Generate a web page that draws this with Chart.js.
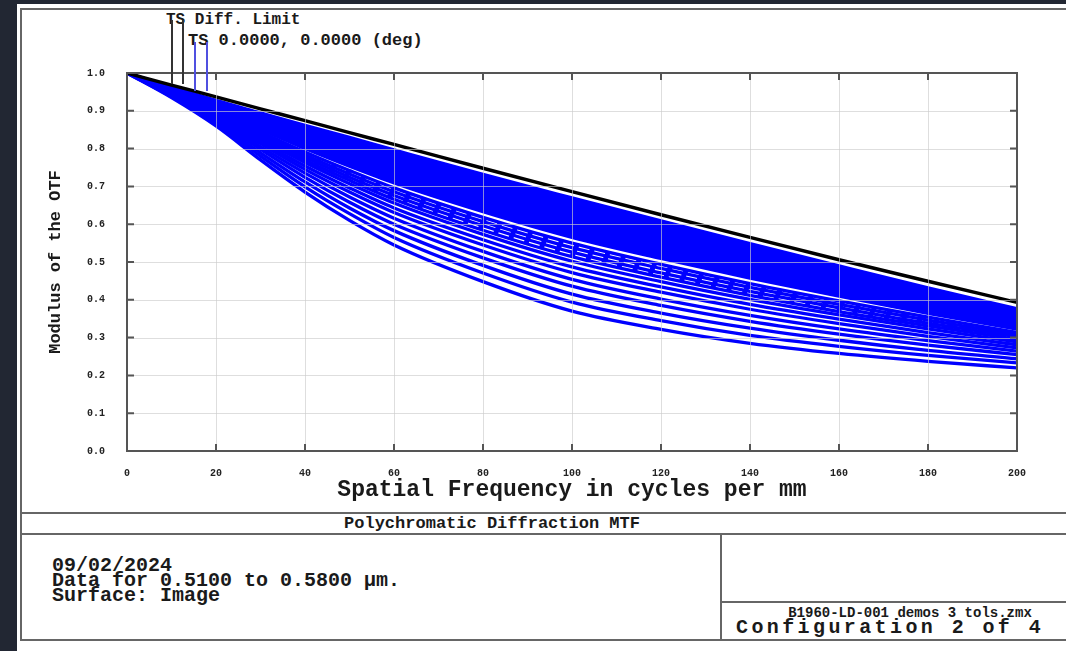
<!DOCTYPE html>
<html>
<head>
<meta charset="utf-8">
<script src="https://cdn.jsdelivr.net/npm/chart.js@4.4.1/dist/chart.umd.min.js"></script>
<style>
  html,body{margin:0;padding:0;}
  body{width:1066px;height:651px;background:#222733;position:relative;overflow:hidden;font-family:"Liberation Mono","Courier New",monospace;color:#1a1a1a;}
  #panel{position:absolute;left:17px;top:4px;width:1049px;height:647px;background:#fff;}
  .hl{position:absolute;height:2px;background:#666;}
  .vl{position:absolute;width:2px;background:#666;}
  .t{position:absolute;font-weight:bold;white-space:pre;}
  #wrap{position:absolute;left:0;top:0;width:1066px;height:512px;}
</style>
</head>
<body>
<div id="panel"></div>
<div class="hl" style="left:20px;top:8px;width:1046px;"></div>
<div class="vl" style="left:20px;top:8px;height:633px;"></div>
<div class="hl" style="left:20px;top:512px;width:1046px;"></div>
<div class="hl" style="left:20px;top:533px;width:1046px;"></div>
<div class="hl" style="left:20px;top:639px;width:1046px;"></div>
<div class="vl" style="left:720px;top:533px;height:107px;"></div>
<div class="hl" style="left:720px;top:601px;width:346px;"></div>

<div class="t" style="left:166px;top:11px;font-size:16px;line-height:18px;">TS Diff. Limit</div>
<div class="t" style="left:188px;top:32px;font-size:17px;line-height:18px;">TS 0.0000, 0.0000 (deg)</div>

<div class="t" style="left:0;width:984px;text-align:center;top:514px;font-size:17px;line-height:20px;">Polychromatic Diffraction MTF</div>
<div class="t" style="left:52px;top:558px;font-size:20px;line-height:15px;">09/02/2024
Data for 0.5100 to 0.5800 µm.
Surface: Image</div>
<div class="t" style="left:721px;width:378px;text-align:center;top:605px;font-size:14px;line-height:16px;">B1960-LD-001 demos 3 tols.zmx</div>
<div class="t" style="left:736px;top:620px;font-size:20px;line-height:16px;letter-spacing:3.4px;">Configuration 2 of 4</div>

<div id="wrap"><canvas id="c"></canvas></div>

<script>
// ---- data ----
const freqs = [0, 10, 20, 30, 40, 50, 60, 80, 100, 120, 140, 160, 180, 200];
const xTicks = [0, 20, 40, 60, 80, 100, 120, 140, 160, 180, 200];
const yTicks = [0.0, 0.1, 0.2, 0.3, 0.4, 0.5, 0.6, 0.7, 0.8, 0.9, 1.0];

const diffLimit = [1, 0.968, 0.937, 0.905, 0.874, 0.842, 0.811, 0.748, 0.686, 0.625, 0.565, 0.506, 0.449, 0.393];

// polychromatic field curves, tangential (solid), top to bottom
const field01 = [1, 0.964, 0.928, 0.895, 0.862, 0.830, 0.797, 0.732, 0.670, 0.609, 0.549, 0.490, 0.432, 0.377];
const field02 = [1, 0.963, 0.925, 0.890, 0.855, 0.821, 0.787, 0.721, 0.658, 0.598, 0.538, 0.481, 0.424, 0.371];
const field03 = [1, 0.962, 0.923, 0.885, 0.848, 0.812, 0.777, 0.709, 0.646, 0.586, 0.528, 0.471, 0.416, 0.364];
const field04 = [1, 0.961, 0.920, 0.880, 0.841, 0.804, 0.767, 0.698, 0.634, 0.575, 0.517, 0.462, 0.409, 0.358];
const field05 = [1, 0.959, 0.917, 0.875, 0.834, 0.795, 0.757, 0.687, 0.622, 0.563, 0.507, 0.453, 0.401, 0.352];
const field06 = [1, 0.958, 0.914, 0.870, 0.827, 0.786, 0.747, 0.675, 0.610, 0.552, 0.496, 0.444, 0.393, 0.346];
const field07 = [1, 0.957, 0.911, 0.864, 0.818, 0.775, 0.734, 0.661, 0.595, 0.537, 0.483, 0.432, 0.383, 0.338];
const field08 = [1, 0.955, 0.908, 0.858, 0.809, 0.764, 0.721, 0.647, 0.580, 0.523, 0.470, 0.420, 0.374, 0.330];
const field09 = [1, 0.954, 0.904, 0.851, 0.800, 0.753, 0.709, 0.633, 0.565, 0.509, 0.457, 0.409, 0.364, 0.322];
const field10 = [1, 0.952, 0.901, 0.845, 0.791, 0.742, 0.696, 0.618, 0.550, 0.494, 0.443, 0.397, 0.354, 0.314];
const field11 = [1, 0.951, 0.898, 0.840, 0.784, 0.733, 0.686, 0.607, 0.538, 0.483, 0.433, 0.388, 0.346, 0.308];
const field12 = [1, 0.950, 0.895, 0.835, 0.777, 0.724, 0.676, 0.596, 0.526, 0.471, 0.422, 0.379, 0.338, 0.302];
const field13 = [1, 0.949, 0.893, 0.830, 0.770, 0.716, 0.666, 0.584, 0.514, 0.460, 0.412, 0.369, 0.331, 0.295];
const field14 = [1, 0.948, 0.890, 0.825, 0.763, 0.707, 0.656, 0.573, 0.502, 0.448, 0.401, 0.360, 0.323, 0.289];
const field15 = [1, 0.946, 0.887, 0.819, 0.754, 0.696, 0.643, 0.559, 0.487, 0.434, 0.388, 0.349, 0.313, 0.281];
const field16 = [1, 0.945, 0.883, 0.813, 0.745, 0.685, 0.631, 0.545, 0.472, 0.420, 0.375, 0.337, 0.303, 0.273];
const field17 = [1, 0.943, 0.879, 0.805, 0.735, 0.672, 0.616, 0.528, 0.454, 0.402, 0.359, 0.323, 0.292, 0.264];
const field18 = [1, 0.941, 0.875, 0.798, 0.724, 0.658, 0.600, 0.511, 0.436, 0.385, 0.343, 0.309, 0.280, 0.255];
const field19 = [1, 0.939, 0.870, 0.789, 0.712, 0.643, 0.583, 0.491, 0.415, 0.365, 0.325, 0.293, 0.266, 0.244];
const field20 = [1, 0.937, 0.865, 0.780, 0.699, 0.628, 0.565, 0.471, 0.394, 0.345, 0.306, 0.277, 0.253, 0.233];
const field21 = [1, 0.935, 0.860, 0.770, 0.685, 0.610, 0.545, 0.448, 0.370, 0.322, 0.285, 0.258, 0.237, 0.220];

// sagittal curves (dashed) in the middle of the band
const sag01 = [1, 0.952, 0.899, 0.843, 0.788, 0.738, 0.691, 0.613, 0.544, 0.489, 0.438, 0.393, 0.350, 0.311];
const sag02 = [1, 0.951, 0.897, 0.838, 0.781, 0.729, 0.681, 0.601, 0.532, 0.477, 0.428, 0.383, 0.342, 0.305];
const sag03 = [1, 0.950, 0.894, 0.833, 0.774, 0.720, 0.671, 0.590, 0.520, 0.466, 0.417, 0.374, 0.335, 0.299];

const fieldCurves = [field01, field02, field03, field04, field05, field06, field07, field08, field09, field10,
  field11, field12, field13, field14, field15, field16, field17, field18, field19, field20, field21];
const sagCurves = [sag01, sag02, sag03];
const denseBandEnd = 9; // curves 1..9 form a dense band

// ---- build ----
const toPts = arr => freqs.map((f, i) => ({x: f, y: arr[i]}));
const datasets = [{
  label: 'TS Diff. Limit',
  data: toPts(diffLimit),
  borderColor: '#000000',
  borderWidth: 3.4,
  pointRadius: 0,
  cubicInterpolationMode: 'monotone',
  fill: false
}];
sagCurves.forEach((c, i) => {
  datasets.push({
    label: 'S 0.0000 (deg) #' + (i + 1),
    data: toPts(c),
    borderColor: '#0000ff',
    borderWidth: 3,
    borderDash: [5, 11],
    pointRadius: 0,
    cubicInterpolationMode: 'monotone',
    fill: false
  });
});
const firstField = datasets.length;
fieldCurves.forEach((c, i) => {
  const n = i + 1;
  datasets.push({
    label: 'T 0.0000 (deg) #' + n,
    data: toPts(c),
    borderColor: '#0000ff',
    borderWidth: n <= denseBandEnd ? 3 : 3.3,
    pointRadius: 0,
    cubicInterpolationMode: 'monotone',
    fill: n === 1 ? {target: firstField + denseBandEnd - 1} : false,
    backgroundColor: '#0000ff'
  });
});

const frame = {
  id: 'frame',
  afterDatasetsDraw(chart) {
    const {ctx, chartArea: a, scales: {x, y}} = chart;
    ctx.save();
    // grid on top of curves
    ctx.strokeStyle = 'rgba(205,205,205,0.65)';
    ctx.lineWidth = 1;
    ctx.beginPath();
    xTicks.forEach(v => { const px = Math.round(x.getPixelForValue(v)) + 0.5; ctx.moveTo(px, a.top); ctx.lineTo(px, a.bottom); });
    yTicks.forEach(v => { const py = Math.round(y.getPixelForValue(v)) + 0.5; ctx.moveTo(a.left, py); ctx.lineTo(a.right, py); });
    ctx.stroke();
    // box
    ctx.strokeStyle = '#555';
    ctx.lineWidth = 2;
    ctx.strokeRect(a.left, a.top, a.right - a.left, a.bottom - a.top);
    // inner ticks
    const L = 7;
    ctx.beginPath();
    xTicks.forEach(v => { const px = x.getPixelForValue(v);
      ctx.moveTo(px, a.bottom); ctx.lineTo(px, a.bottom - L);
      ctx.moveTo(px, a.top); ctx.lineTo(px, a.top + L); });
    yTicks.forEach(v => { const py = y.getPixelForValue(v);
      ctx.moveTo(a.left, py); ctx.lineTo(a.left + L, py);
      ctx.moveTo(a.right, py); ctx.lineTo(a.right - L, py); });
    ctx.stroke();
    ctx.restore();
  },
  afterDraw(chart) {
    const {ctx, chartArea: a} = chart;
    ctx.save();
    ctx.lineWidth = 2;
    ctx.strokeStyle = '#333';
    ctx.beginPath();
    [45, 56].forEach(dx => { ctx.moveTo(a.left + dx, a.top - 53); ctx.lineTo(a.left + dx, a.top + 11); });
    ctx.stroke();
    ctx.strokeStyle = '#5050e0';
    ctx.beginPath();
    [68, 80].forEach(dx => { ctx.moveTo(a.left + dx, a.top - 31); ctx.lineTo(a.left + dx, a.top + 18); });
    ctx.stroke();
    ctx.restore();
  }
};

const tickFont = {family: 'Liberation Mono', weight: 'bold', size: 10};
new Chart(document.getElementById('c'), {
  type: 'line',
  data: {datasets},
  options: {
    responsive: true,
    maintainAspectRatio: false,
    animation: false,
    layout: {padding: {left: 0, top: 73, right: 49, bottom: 0}},
    plugins: {legend: {display: false}, tooltip: {enabled: false}},
    scales: {
      x: {
        type: 'linear', min: 0, max: 200,
        afterFit: s => { s.height = 61; },
        grid: {display: false}, border: {display: false},
        ticks: {stepSize: 20, color: '#222', font: tickFont, padding: 8, maxRotation: 0,
          callback: v => String(v)},
        afterBuildTicks: s => { s.ticks = xTicks.map(v => ({value: v})); },
        title: {display: true, text: 'Spatial Frequency in cycles per mm', color: '#1a1a1a',
          font: {family: 'Liberation Mono', weight: 'bold', size: 23}, padding: {top: 0, bottom: 8}}
      },
      y: {
        type: 'linear', min: 0, max: 1,
        afterFit: s => { s.width = 127; },
        grid: {display: false}, border: {display: false},
        ticks: {stepSize: 0.1, color: '#222', font: tickFont, padding: 14,
          callback: v => Number(v).toFixed(1)},
        afterBuildTicks: s => { s.ticks = yTicks.map(v => ({value: v})); },
        title: {display: true, text: 'Modulus of the OTF', color: '#1a1a1a',
          font: {family: 'Liberation Mono', weight: 'bold', size: 17}, padding: {top: 46, bottom: 0}}
      }
    }
  },
  plugins: [frame]
});
</script>
</body>
</html>
